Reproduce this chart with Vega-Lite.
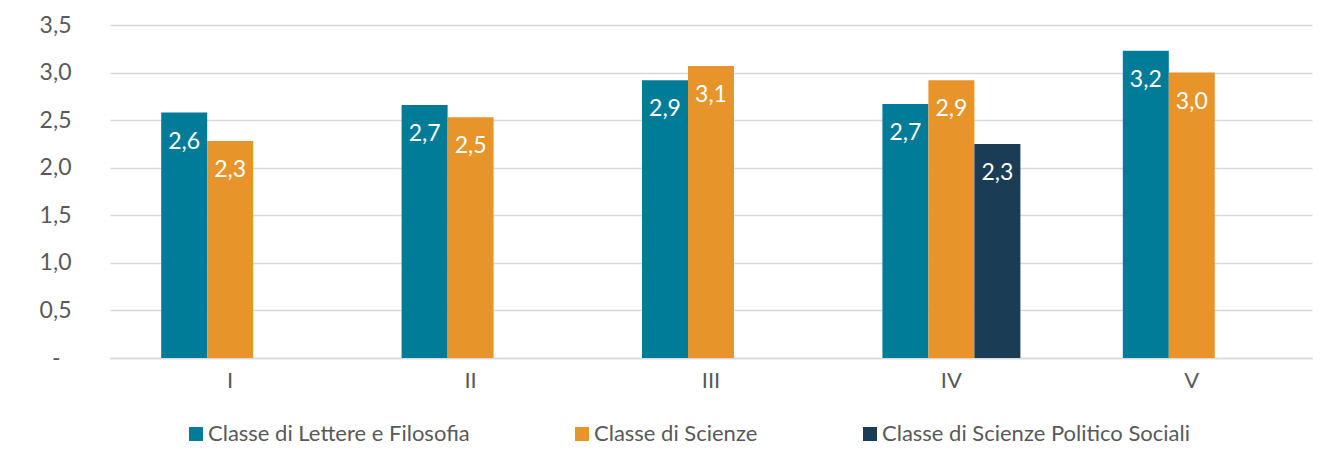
{
  "$schema": "https://vega.github.io/schema/vega-lite/v6.json",
  "width": 1202,
  "height": 333,
  "autosize": "none",
  "padding": {"left": 110, "top": 25, "right": 28, "bottom": 99},
  "background": "white",
  "data": {
    "values": [
      {"anno": "I", "classe": "Classe di Lettere e Filosofia", "valore": 2.58},
      {"anno": "I", "classe": "Classe di Scienze", "valore": 2.28},
      {"anno": "II", "classe": "Classe di Lettere e Filosofia", "valore": 2.66},
      {"anno": "II", "classe": "Classe di Scienze", "valore": 2.53},
      {"anno": "III", "classe": "Classe di Lettere e Filosofia", "valore": 2.92},
      {"anno": "III", "classe": "Classe di Scienze", "valore": 3.07},
      {"anno": "IV", "classe": "Classe di Lettere e Filosofia", "valore": 2.67},
      {"anno": "IV", "classe": "Classe di Scienze", "valore": 2.92},
      {"anno": "IV", "classe": "Classe di Scienze Politico Sociali", "valore": 2.25},
      {"anno": "V", "classe": "Classe di Lettere e Filosofia", "valore": 3.23},
      {"anno": "V", "classe": "Classe di Scienze", "valore": 3.0}
    ]
  },
  "encoding": {
    "x": {
      "field": "anno", "type": "nominal", "sort": ["I", "II", "III", "IV", "V"],
      "scale": {"paddingInner": 0.426, "paddingOuter": 0.213},
      "axis": {"title": null, "labelAngle": 0, "ticks": false, "domainColor": "#D9D9D9", "domainWidth": 1.5, "labelPadding": 22, "labelBaseline": "middle", "labelFontSize": 22, "labelColor": "#595959"}
    },
    "xOffset": {
      "field": "classe", "type": "nominal",
      "sort": ["Classe di Lettere e Filosofia", "Classe di Scienze", "Classe di Scienze Politico Sociali"],
      "scale": {"paddingInner": 0, "paddingOuter": 0}
    },
    "y": {
      "field": "valore", "type": "quantitative",
      "scale": {"domain": [0, 3.5], "nice": false},
      "axis": {"title": null, "values": [0, 0.5, 1, 1.5, 2, 2.5, 3, 3.5], "domain": false, "ticks": false, "gridColor": "#D9D9D9", "gridWidth": 1.5,
        "labelPadding": {"condition": {"test": "datum.value == 0", "value": 50}, "value": 39},
        "labelFontSize": 23, "labelColor": "#595959",
        "labelExpr": "datum.value == 0 ? '-' : replace(format(datum.value, '.1f'), '.', ',')"}
    }
  },
  "layer": [
    {
      "mark": {"type": "bar"},
      "encoding": {
        "color": {
          "field": "classe", "type": "nominal",
          "sort": ["Classe di Lettere e Filosofia", "Classe di Scienze", "Classe di Scienze Politico Sociali"],
          "scale": {"domain": ["Classe di Lettere e Filosofia", "Classe di Scienze", "Classe di Scienze Politico Sociali"], "range": ["#007C98", "#E7952A", "#1A3D55"]},
          "legend": {"title": null, "orient": "none", "direction": "horizontal", "legendX": 75, "legendY": 398, "symbolType": "square", "symbolSize": 196, "symbolStrokeWidth": 0, "symbolOpacity": 1, "labelFontSize": 22, "labelColor": "#595959", "labelLimit": 600, "columnPadding": 101, "labelOffset": 1}
        }
      }
    },
    {
      "mark": {"type": "text", "color": "white", "fontSize": 23, "baseline": "middle", "dy": 29},
      "encoding": {
        "text": {"field": "valore", "type": "quantitative", "format": ".1f"}
      }
    }
  ],
  "config": {
    "font": "Lato",
    "view": {"stroke": null},
    "locale": {"number": {"decimal": ",", "thousands": ".", "grouping": [3], "currency": ["", " €"]}}
  }
}
